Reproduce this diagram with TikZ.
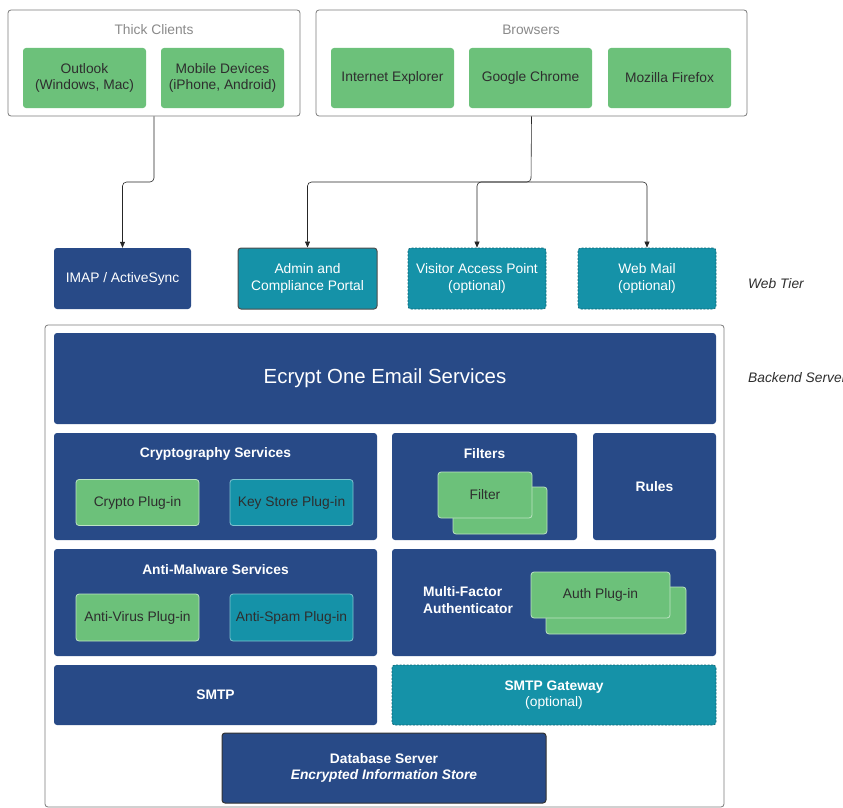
\documentclass[tikz,border=0pt]{standalone}
\usepackage{fontspec}
\setmainfont{Liberation Sans}
\usetikzlibrary{arrows.meta}
\definecolor{navy}{HTML}{284A87}
\definecolor{tealbox}{HTML}{1592A8}
\definecolor{clientgreen}{HTML}{6CC17A}
\definecolor{inkgrey}{HTML}{2E2E2E}
\definecolor{framegrey}{HTML}{7A7A7A}
\definecolor{titlegrey}{HTML}{8A8A8A}
\definecolor{dashteal}{HTML}{0B6675}
\newcommand\diagfont{\fontsize{13.8}{16.5}\selectfont}
\begin{document}
\begin{tikzpicture}[x=1pt,y=-1pt,
    every node/.style={font=\diagfont,inner sep=0pt},
    wh/.style 2 args={minimum width=#1pt,minimum height=#2pt},
    group/.style={draw=framegrey,line width=0.8pt,rounded corners=3pt,fill=white},
    grouptitle/.style={text=titlegrey},
    client/.style={fill=clientgreen,text=inkgrey,rounded corners=3pt,align=center},
    service/.style={fill=navy,text=white,rounded corners=3pt,align=center},
    portal/.style={fill=tealbox,text=white,rounded corners=3pt,align=center},
    optportal/.style={portal,draw=dashteal,dash pattern=on 2pt off 1.5pt,line width=0.8pt},
    plugin/.style={fill=clientgreen,text=inkgrey,draw=white!55!clientgreen,line width=0.8pt,rounded corners=3pt},
    tealplugin/.style={plugin,fill=tealbox,draw=white!45!tealbox},
    heading/.style={text=white,font=\diagfont\bfseries},
    tier/.style={anchor=west,text=inkgrey,font=\diagfont\itshape},
    link/.style={draw=black!85,line width=0.6pt,rounded corners=4pt,-{Triangle[length=6pt,width=5pt]}}
  ]
  \useasboundingbox (0,0) rectangle (843,808);

  % clients
  \node[group,wh={292}{106}] (thick) at (154,63) {};
  \node[grouptitle] (thicktitle) at (154,30) {Thick Clients};
  \node[client,wh={123}{60}] (outlook) at (84.5,78) {Outlook\\(Windows, Mac)};
  \node[client,wh={123}{60}] (mobile) at (222.5,78) {Mobile Devices\\(iPhone, Android)};

  \node[group,wh={431}{106}] (browsers) at (531.5,63) {};
  \node[grouptitle] (browserstitle) at (531,30) {Browsers};
  \node[client,wh={123}{60}] (ie) at (392.5,78) {Internet Explorer};
  \node[client,wh={123}{60}] (chrome) at (530.5,78) {Google Chrome};
  \node[client,wh={123}{60}] (firefox) at (669.5,78) {Mozilla Firefox};

  % web tier
  \node[service,wh={137}{61}] (imap) at (122.5,278.5) {IMAP / ActiveSync};
  \node[portal,draw=black!70,line width=1pt,wh={139}{61}] (admin) at (307.5,278.5) {Admin and\\Compliance Portal};
  \node[optportal,wh={138}{61}] (visitor) at (477,278.5) {Visitor Access Point\\(optional)};
  \node[optportal,wh={138}{61}] (webmail) at (647,278.5) {Web Mail\\(optional)};
  \node[tier] (webtier) at (748,284) {Web Tier};

  \coordinate (tcbend) at (154,182);
  \coordinate (brbend) at (531,182);
  \begin{scope}[link]
    \draw (thick.south) -- (tcbend) -| (imap.north);
    \draw (browsers.south) -- (brbend) -| (admin.north);
    \draw (brbend) -| (visitor.north);
    \draw (brbend) -| (webmail.north);
  \end{scope}

  % backend server
  \node[group,wh={679}{482}] (backend) at (384.5,566) {};
  \node[tier] (backendtier) at (748,378) {Backend Server};
  \node[service,wh={662}{91},font=\fontsize{20.4}{24}\selectfont] (ecrypt) at (385,378.5) {Ecrypt One Email Services};

  \node[service,wh={323}{107}] (crypto) at (215.5,486.5) {};
  \node[heading] (cryptotitle) at (215.5,454) {Cryptography Services};
  \node[plugin,wh={123}{46}] (cryptoplug) at (137.5,502.5) {Crypto Plug-in};
  \node[tealplugin,wh={123}{46}] (keystore) at (291.5,502.5) {Key Store Plug-in};

  \node[service,wh={185}{107}] (filters) at (484.5,486.5) {};
  \node[heading] (filterstitle) at (484.5,454) {Filters};
  \node[plugin,wh={94}{47}] (filterback) at (500,510.5) {};
  \node[plugin,wh={94}{46}] (filter) at (485,495) {Filter};

  \node[service,wh={123}{107},font=\diagfont\bfseries] (rules) at (654.5,486.5) {Rules};

  \node[service,wh={323}{107}] (malware) at (215.5,602.5) {};
  \node[heading] (malwaretitle) at (215.5,570) {Anti-Malware Services};
  \node[plugin,wh={123}{47}] (antivirus) at (137.5,617.5) {Anti-Virus Plug-in};
  \node[tealplugin,wh={123}{47}] (antispam) at (291.5,617.5) {Anti-Spam Plug-in};

  \node[service,wh={324}{107}] (mfa) at (554,602.5) {};
  \node[heading,anchor=west,align=left] (mfatitle) at (423,600) {Multi-Factor\\Authenticator};
  \node[plugin,wh={140}{47}] (authback) at (616,610.5) {};
  \node[plugin,wh={139}{46}] (auth) at (600.5,595) {Auth Plug-in};

  \node[service,wh={323}{60},font=\diagfont\bfseries] (smtp) at (215.5,695) {SMTP};
  \node[optportal,wh={324}{60}] (gateway) at (554,695) {\textbf{SMTP Gateway}\\(optional)};

  \node[service,draw=black!80,line width=1pt,wh={324}{70}] (database) at (384,768) {\textbf{Database Server}\\\textbf{\textit{Encrypted Information Store}}};
\end{tikzpicture}
\end{document}
